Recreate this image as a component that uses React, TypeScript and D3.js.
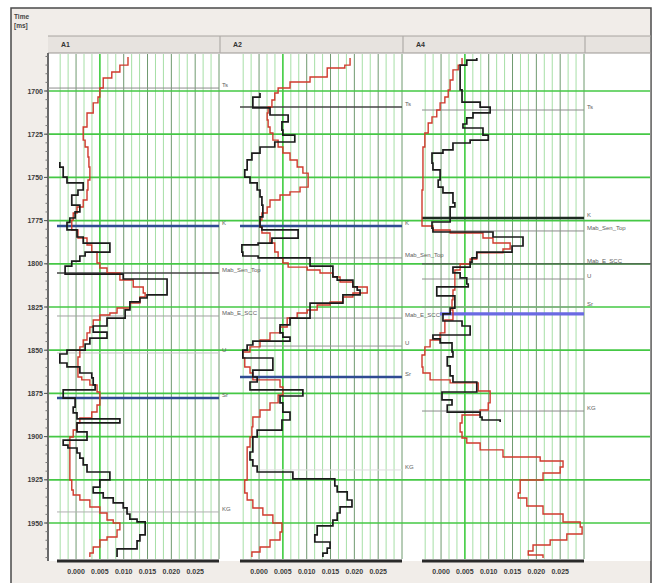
import React from "react";
import * as d3 from "d3";

// ---------- data ----------
const TIME_TICKS = [1700, 1725, 1750, 1775, 1800, 1825, 1850, 1875, 1900, 1925, 1950];
const VALUE_TICKS = [0, 0.005, 0.01, 0.015, 0.02, 0.025];
const TRACK_NAMES = ["A1", "A2", "A4"];

// [time (ms), value] — value starts at that time (step log)
const A1_RED: [number, number][] = [
  [1680.3, 0.0109], [1685.0, 0.0092], [1689.0, 0.0075], [1692.5, 0.0057], [1698.3, 0.005], [1703.5, 0.0046],
  [1706.9, 0.0036], [1712.7, 0.0023], [1720.8, 0.0015], [1728.4, 0.0019], [1732.4, 0.0025], [1738.2, 0.0027],
  [1744.0, 0.0029], [1751.5, 0.0025], [1757.3, 0.0023], [1763.1, 0.0015], [1767.1, 0.0002], [1770.6, -0.0006],
  [1774.7, -0.0009], [1780.4, 0.0004], [1785.1, 0.0023], [1789.1, 0.0033], [1793.2, 0.0044], [1799.5, 0.005],
  [1802.4, 0.0065], [1805.3, 0.0092], [1809.4, 0.012], [1813.4, 0.0141], [1816.9, 0.0145], [1819.2, 0.0134],
  [1822.7, 0.0113], [1825.6, 0.0086], [1828.5, 0.0071], [1829.6, 0.005], [1832.5, 0.0036], [1836.6, 0.0029],
  [1840.0, 0.0023], [1844.1, 0.0015], [1848.1, 0.0008], [1853.9, 0.0004], [1865.5, 0.0012], [1867.2, 0.0029],
  [1870.1, 0.0044], [1874.2, 0.005], [1881.7, 0.0044], [1885.8, 0.0033], [1889.2, 0.0008], [1892.1, 0.0002],
  [1896.2, -0.0006], [1900.2, -0.0013], [1925.1, -0.0009], [1930.9, -0.0006], [1933.8, 0.0008], [1936.7, 0.0029],
  [1940.7, 0.005], [1944.2, 0.0065], [1948.3, 0.0078], [1950.0, 0.0092], [1954.0, 0.0086], [1958.1, 0.0065],
  [1959.8, 0.005], [1963.9, 0.0036], [1967.4, 0.0029], [1969.7, 0.0029],
];
const A1_BLACK: [number, number][] = [
  [1741.1, -0.0034], [1744.0, -0.0027], [1749.8, -0.0019], [1753.2, 0.0015], [1757.3, 0.0004], [1760.2, -0.0009],
  [1766.0, 0.0008], [1770.0, -0.0002], [1773.5, -0.0013], [1776.0, -0.0019], [1780.4, 0.0002], [1784.5, 0.0015],
  [1788.0, 0.0071], [1793.2, 0.0019], [1795.5, 0.0008], [1798.4, -0.0009], [1801.3, -0.0023], [1806.0, 0.0099],
  [1808.8, 0.0191], [1818.0, 0.0149], [1819.8, 0.0134], [1822.0, 0.0113], [1826.7, 0.0103], [1831.4, 0.0065],
  [1836.0, 0.0036], [1839.5, 0.0065], [1843.0, 0.0029], [1846.4, 0.0019], [1849.9, -0.0019], [1852.2, -0.0034],
  [1857.4, -0.0019], [1859.7, 0.0008], [1863.2, 0.0033], [1866.0, 0.0036], [1870.1, 0.004], [1873.0, -0.0027],
  [1877.7, -0.0002], [1882.9, -0.0006], [1886.3, 0.0002], [1889.8, 0.0092], [1892.1, 0.0002], [1897.3, 0.0023],
  [1902.0, -0.0027], [1904.9, -0.0017], [1906.6, 0.0002], [1909.5, 0.0008], [1912.4, 0.0015], [1916.4, 0.0023],
  [1920.5, 0.0071], [1925.1, 0.005], [1929.2, 0.0036], [1932.6, 0.0057], [1935.5, 0.0078], [1938.4, 0.0099],
  [1941.3, 0.0107], [1944.8, 0.0113], [1947.7, 0.0128], [1949.4, 0.0145], [1956.9, 0.0134], [1960.4, 0.0128],
  [1965.0, 0.0086], [1969.7, 0.0086],
];
const A2_RED: [number, number][] = [
  [1680.9, 0.0191], [1685.0, 0.018], [1686.7, 0.0143], [1691.9, 0.0107], [1694.8, 0.0065], [1698.3, 0.004],
  [1701.2, 0.0033], [1705.2, 0.0027], [1709.3, 0.0019], [1712.7, 0.0017], [1716.8, 0.0019], [1720.8, 0.0023],
  [1724.3, 0.0029], [1728.4, 0.004], [1732.4, 0.005], [1735.9, 0.0065], [1739.9, 0.008], [1744.0, 0.0092],
  [1747.5, 0.0103], [1755.6, 0.0086], [1758.4, 0.0065], [1760.2, 0.0044], [1763.1, 0.0023], [1767.1, 0.0017],
  [1770.6, 0.0006], [1774.7, 0.0002], [1778.7, 0.0006], [1782.2, 0.0023], [1788.0, 0.0033], [1793.2, 0.004],
  [1796.6, 0.005], [1799.5, 0.0061], [1801.9, 0.0101], [1803.6, 0.0128], [1805.3, 0.0155], [1807.6, 0.017],
  [1810.5, 0.0197], [1813.4, 0.0227], [1816.9, 0.0197], [1819.2, 0.0176], [1822.1, 0.0149], [1823.8, 0.0122],
  [1826.7, 0.0101], [1828.5, 0.008], [1831.4, 0.0059], [1836.6, 0.0044], [1840.0, 0.0023], [1844.1, 0.0002],
  [1848.1, -0.0019], [1851.0, -0.0034], [1854.5, -0.003], [1859.7, -0.0019], [1863.2, -0.0013], [1867.2, 0.0044],
  [1871.3, 0.005], [1875.9, 0.004], [1880.5, 0.0023], [1884.6, 0.0002], [1888.7, -0.0013], [1894.4, -0.0015],
  [1900.2, -0.0019], [1906.0, -0.0025], [1925.1, -0.003], [1932.6, -0.0025], [1936.7, -0.0013], [1941.3, 0.0008],
  [1945.4, 0.0029], [1950.0, 0.0048], [1955.2, 0.0044], [1959.8, 0.0023], [1963.9, 0.0002], [1966.8, -0.0015],
  [1969.7, -0.0015],
];
const A2_BLACK: [number, number][] = [
  [1701.2, 0.0002], [1703.5, -0.0013], [1709.8, 0.0023], [1713.9, 0.0061], [1717.9, 0.0048], [1722.6, 0.005],
  [1725.5, 0.0075], [1729.5, 0.0033], [1732.4, 0.0002], [1735.9, -0.0015], [1739.9, -0.0025], [1745.7, -0.003],
  [1749.8, -0.0019], [1753.2, -0.0004], [1757.3, 0.0002], [1761.3, 0.0006], [1766.0, 0.0008], [1772.9, 0.0002],
  [1778.7, 0.0006], [1780.4, 0.0082], [1785.1, 0.0027], [1788.0, -0.0002], [1789.1, -0.0036], [1793.2, -0.0034],
  [1795.5, -0.0002], [1796.6, 0.0107], [1801.3, 0.0155], [1807.6, 0.0164], [1809.4, 0.0197], [1813.4, 0.0206],
  [1815.2, 0.0212], [1818.0, 0.0176], [1822.7, 0.0107], [1831.4, 0.0065], [1835.4, 0.0044], [1840.0, 0.005],
  [1842.4, 0.0065], [1844.7, -0.0013], [1847.0, -0.0025], [1849.9, -0.0034], [1854.5, 0.0029], [1861.5, -0.0013],
  [1865.5, -0.0004], [1868.4, -0.0019], [1873.0, 0.0092], [1876.5, 0.0044], [1880.5, 0.005], [1885.8, 0.0065],
  [1890.4, 0.0048], [1896.2, -0.0004], [1900.2, -0.0013], [1908.9, -0.0019], [1913.5, -0.0013], [1917.0, -0.0004],
  [1920.5, 0.0071], [1924.5, 0.0159], [1928.6, 0.0164], [1932.0, 0.0185], [1936.7, 0.0195], [1940.7, 0.017],
  [1944.2, 0.0164], [1948.3, 0.0155], [1951.7, 0.0122], [1956.9, 0.0117], [1961.0, 0.0149], [1964.5, 0.0143],
  [1967.4, 0.0134], [1969.7, 0.0134],
];
const A4_RED: [number, number][] = [
  [1680.9, 0.0044], [1685.0, 0.0036], [1687.8, 0.0025], [1693.6, 0.0019], [1699.4, 0.0015], [1703.5, 0.0008],
  [1706.9, -0.0002], [1711.0, -0.0009], [1715.0, -0.0019], [1718.5, -0.0027], [1724.3, -0.0034], [1732.4, -0.0038],
  [1757.3, -0.004], [1778.1, -0.0017], [1780.4, 0.0019], [1782.2, 0.0088], [1785.1, 0.0109], [1788.0, 0.0145],
  [1791.4, 0.013], [1793.7, 0.0075], [1797.2, 0.0061], [1800.1, 0.004], [1803.6, 0.0029], [1815.2, 0.0025],
  [1820.9, 0.0023], [1826.7, 0.0025], [1832.5, 0.0008], [1840.0, -0.0002], [1844.1, -0.0023], [1848.1, -0.0034],
  [1852.8, -0.004], [1859.7, -0.0038], [1863.2, -0.0023], [1867.2, 0.0019], [1868.9, 0.0078], [1873.6, 0.0103],
  [1880.5, 0.0099], [1884.6, 0.0082], [1887.5, 0.0044], [1892.1, 0.004], [1897.3, 0.0044], [1900.8, 0.0054],
  [1903.7, 0.0082], [1907.7, 0.013], [1911.8, 0.0208], [1914.1, 0.0256], [1917.6, 0.025], [1921.1, 0.0214],
  [1925.1, 0.0166], [1932.6, 0.0162], [1935.5, 0.018], [1940.2, 0.0214], [1944.8, 0.0256], [1949.4, 0.0292],
  [1952.3, 0.0296], [1956.4, 0.0264], [1959.8, 0.0229], [1962.7, 0.0193], [1966.2, 0.0183], [1968.5, 0.0214],
  [1970.3, 0.0214],
];
const A4_BLACK: [number, number][] = [
  [1680.9, 0.0075], [1682.1, 0.0054], [1685.0, 0.004], [1699.4, 0.0044], [1706.4, 0.0082], [1709.3, 0.0103],
  [1712.7, 0.0067], [1715.6, 0.0054], [1719.1, 0.0046], [1721.4, 0.0088], [1725.5, 0.0099], [1728.4, 0.0061],
  [1730.1, 0.0025], [1734.1, 0.0004], [1735.9, -0.0019], [1741.7, -0.0017], [1745.7, -0.0002], [1751.5, -0.0006],
  [1755.6, 0.0004], [1759.0, 0.0025], [1764.8, 0.0029], [1767.1, 0.0019], [1775.8, -0.0019], [1779.3, -0.0017],
  [1781.6, 0.0109], [1784.5, 0.0172], [1789.7, 0.0149], [1793.2, 0.0075], [1796.6, 0.0065], [1799.0, 0.0061],
  [1801.9, 0.0025], [1805.3, 0.004], [1808.2, 0.0054], [1811.7, 0.0057], [1813.4, -0.0009], [1818.6, 0.0029],
  [1825.6, 0.0019], [1829.0, 0.0004], [1833.1, 0.0044], [1836.0, 0.0061], [1841.2, -0.0017], [1843.5, -0.0002],
  [1845.8, 0.0023], [1851.0, 0.0025], [1853.9, 0.0013], [1859.1, 0.0019], [1864.9, 0.0025], [1868.4, 0.0075],
  [1874.2, 0.0002], [1878.8, 0.0023], [1881.7, 0.0013], [1885.8, 0.0082], [1888.7, 0.0086], [1890.4, 0.0124],
  [1891.5, 0.0124],
];

// well tops: [name, time]
const A1_TOPS: [string, number][] = [
  ["Ts", 1698.3], ["K", 1778.1], ["Mab_Sen_Top", 1805.3], ["Mab_E_SCC", 1830.2], ["U", 1851.6], ["Sr", 1877.7], ["KG", 1943.6],
];
const A2_TOPS: [string, number][] = [
  ["Ts", 1709.3], ["K", 1778.1], ["Mab_Sen_Top", 1796.6], ["Mab_E_SCC", 1831.4], ["U", 1847.6], ["Sr", 1865.5], ["KG", 1919.3],
];
const A4_TOPS: [string, number][] = [
  ["Ts", 1711.0], ["K", 1773.5], ["Mab_Sen_Top", 1781.0], ["Mab_E_SCC", 1800.1], ["U", 1808.8], ["Sr", 1825.0], ["Sr_base", 1829.0], ["KG", 1885.2],
];

// ---------- layout & styles ----------
const W = 657, H = 583;
const FR_L = 11, FR_T = 8, FR_R = 651;
const AXIS_X = 48;
const HDR_T = 36, HDR_B = 53;
const PLOT_B = 561;
const TRACK_X0 = [57, 240, 422];
const TRACK_W = 162;
const TRACK_HDR = [[48, 220], [220, 403], [403, 585]];
const FONT = "'Liberation Sans', Arial, sans-serif";

type TopStyle = { color: string; width: number; start?: number; end?: number; hide?: boolean };
const BLUE = "#2f4b92";
const TOP_STYLES: Record<string, TopStyle>[] = [
  {
    Ts: { color: "#8c8c8c", width: 1, start: AXIS_X },
    K: { color: BLUE, width: 2.6 },
    Mab_Sen_Top: { color: "#454545", width: 1.6 },
    Mab_E_SCC: { color: "#a0a0a0", width: 1 },
    U: { color: "#c4c4c4", width: 1 },
    Sr: { color: BLUE, width: 2.6 },
    KG: { color: "#b0b0b0", width: 1 },
  },
  {
    Ts: { color: "#454545", width: 1.6 },
    K: { color: BLUE, width: 2.6 },
    Mab_Sen_Top: { color: "#8c8c8c", width: 1, start: 20 },
    Mab_E_SCC: { color: "#8c8c8c", width: 1, start: 20 },
    U: { color: "#9a9a9a", width: 1, start: 20 },
    Sr: { color: BLUE, width: 2.6 },
    KG: { color: "#dddddd", width: 1, start: 20 },
  },
  {
    Ts: { color: "#8c8c8c", width: 1 },
    K: { color: "#1e2a22", width: 2.6 },
    Mab_Sen_Top: { color: "#8c8c8c", width: 1, start: 11 },
    Mab_E_SCC: { color: "#555555", width: 1.3, end: FR_R },
    U: { color: "#8c8c8c", width: 1 },
    Sr: { color: "#9a9a9a", width: 1 },
    Sr_base: { color: "#6a6ae2", width: 3.2, start: 18, hide: true },
    KG: { color: "#8c8c8c", width: 1 },
  },
];

const TRACKS = [
  { name: TRACK_NAMES[0], red: A1_RED, black: A1_BLACK, tops: A1_TOPS },
  { name: TRACK_NAMES[1], red: A2_RED, black: A2_BLACK, tops: A2_TOPS },
  { name: TRACK_NAMES[2], red: A4_RED, black: A4_BLACK, tops: A4_TOPS },
];

const y = d3.scaleLinear().domain([1700, 1950]).range([91, 523]);
const fmt = d3.format(".3f");
const MINOR_T = d3.range(1680, 1971, 5);
const GRID_V = d3.range(-0.0033333, 0.0302, 0.005 / 3);

export default function App() {
  return (
    <svg width={W} height={H} style={{ position: "absolute", left: 0, top: 0, display: "block" }} fontFamily={FONT}>
      <rect x={0} y={0} width={W} height={H} fill="#ffffff" />
      {/* frame */}
      <rect x={FR_L} y={FR_T} width={FR_R - FR_L} height={H - FR_T + 4} fill="#f1ede9" stroke="#4a4a4a" strokeWidth={1.5} />
      <rect x={AXIS_X} y={HDR_B} width={FR_R - AXIS_X - 0.8} height={PLOT_B - HDR_B} fill="#ffffff" />
      {/* header band */}
      <rect x={AXIS_X} y={HDR_T} width={FR_R - AXIS_X - 0.8} height={HDR_B - HDR_T} fill="#e7e3df" />
      <line x1={AXIS_X} x2={FR_R} y1={HDR_T} y2={HDR_T} stroke="#a8a4a0" strokeWidth={1} />
      <line x1={AXIS_X} x2={FR_R} y1={HDR_B} y2={HDR_B} stroke="#9a9692" strokeWidth={1} />
      {TRACK_HDR.map(([a, b], i) => (
        <g key={"h" + i}>
          <line x1={b} x2={b} y1={HDR_T} y2={HDR_B} stroke="#b0aca8" strokeWidth={1.2} />
          <text x={a + 13} y={47} fontSize={7} fontWeight="bold" fill="#333">{TRACKS[i].name}</text>
        </g>
      ))}
      <text x={14} y={19} fontSize={6.5} fontWeight="bold" fill="#444">Time</text>
      <text x={14} y={28} fontSize={6.5} fontWeight="bold" fill="#444">[ms]</text>

      {/* vertical grids */}
      {TRACKS.map((tr, i) => {
        const x = d3.scaleLinear().domain([-0.004, 0.03]).range([TRACK_X0[i], TRACK_X0[i] + TRACK_W]);
        return (
          <g key={"g" + i}>
            {GRID_V.map((v, j) => {
              const q = v / 0.005;
              const major = Math.abs(q - Math.round(q)) < 1e-3;
              const bright = major && Math.round(q) === 1;
              return (
                <line key={j} x1={x(v)} x2={x(v)} y1={HDR_B + 1} y2={PLOT_B - 2}
                  stroke={bright ? "#3fcc3f" : major ? "#6f9a6f" : "#a6dfa6"}
                  strokeWidth={bright ? 1.6 : 1} />
              );
            })}
          </g>
        );
      })}

      {/* horizontal time grid */}
      {TIME_TICKS.map((t) => (
        <line key={"t" + t} x1={AXIS_X} x2={FR_R - 1} y1={y(t)} y2={y(t)} stroke="#45c845" strokeWidth={1.7} />
      ))}

      {/* left axis */}
      <line x1={AXIS_X} x2={AXIS_X} y1={HDR_B} y2={PLOT_B} stroke="#6a6a6a" strokeWidth={2} />
      {MINOR_T.map((t) => (
        <line key={"m" + t} x1={AXIS_X - 2.5} x2={AXIS_X} y1={y(t)} y2={y(t)} stroke="#777" strokeWidth={1} />
      ))}
      {TIME_TICKS.map((t) => (
        <g key={"l" + t}>
          <line x1={AXIS_X - 4} x2={AXIS_X} y1={y(t)} y2={y(t)} stroke="#555" strokeWidth={1} />
          <text x={AXIS_X - 5} y={y(t) + 2.5} fontSize={7} fontWeight="bold" fill="#3a3a3a" textAnchor="end">{t}</text>
        </g>
      ))}

      {/* tops */}
      {TRACKS.map((tr, i) => {
        const x0 = TRACK_X0[i];
        return (
          <g key={"tp" + i}>
            {tr.tops.map(([name, t]) => {
              const st = TOP_STYLES[i][name];
              const xs = st.start === undefined ? x0 : st.start > 100 || st.start === AXIS_X ? st.start : x0 + st.start;
              const xe = st.end ?? x0 + TRACK_W;
              return (
                <g key={name}>
                  <line x1={xs} x2={xe} y1={y(t)} y2={y(t)} stroke={st.color} strokeWidth={st.width} />
                  {!st.hide && (
                    <text x={x0 + TRACK_W + 3} y={y(t) - 1} fontSize={6} fill="#5e5e5e">{name}</text>
                  )}
                </g>
              );
            })}
          </g>
        );
      })}

      {/* curves */}
      {TRACKS.map((tr, i) => {
        const x = d3.scaleLinear().domain([-0.004, 0.03]).range([TRACK_X0[i], TRACK_X0[i] + TRACK_W]);
        const line = d3.line<[number, number]>().x((d) => x(d[1])).y((d) => y(d[0])).curve(d3.curveStepBefore);
        return (
          <g key={"c" + i} fill="none">
            <path d={line(tr.red) || ""} stroke="#cf3a2c" strokeWidth={1.4} />
            <path d={line(tr.black) || ""} stroke="#1b1b1b" strokeWidth={1.7} />
          </g>
        );
      })}

      {/* bottom scale */}
      {TRACKS.map((tr, i) => {
        const x = d3.scaleLinear().domain([-0.004, 0.03]).range([TRACK_X0[i], TRACK_X0[i] + TRACK_W]);
        return (
          <g key={"b" + i}>
            <line x1={TRACK_X0[i]} x2={TRACK_X0[i] + TRACK_W} y1={PLOT_B} y2={PLOT_B} stroke="#2a2a2a" strokeWidth={3} />
            {VALUE_TICKS.map((v) => (
              <text key={v} x={x(v)} y={574} fontSize={7} fontWeight="bold" fill="#3a3a3a" textAnchor="middle">{fmt(v)}</text>
            ))}
          </g>
        );
      })}
    </svg>
  );
}
